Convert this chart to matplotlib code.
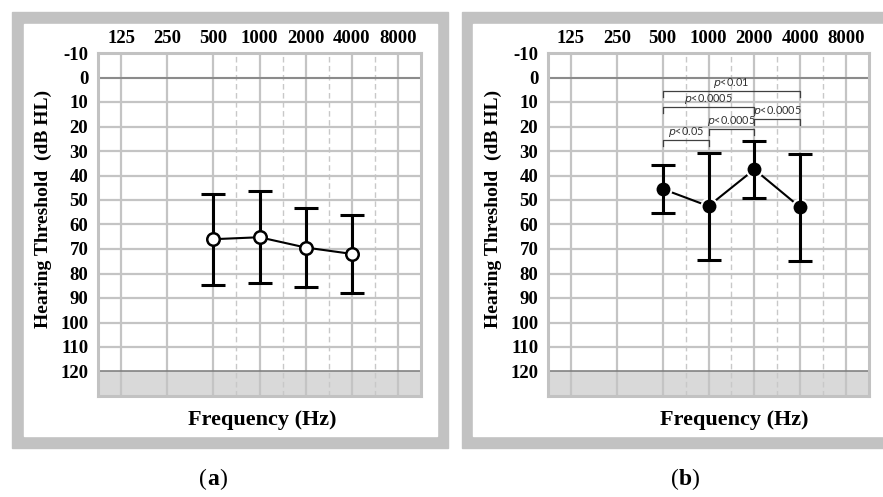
import numpy as np
import matplotlib.pyplot as plt
from matplotlib.patches import Rectangle

# audiogram frequencies (Hz) shown along the top
freqs = [125, 250, 500, 1000, 2000, 4000, 8000]
yticks = list(range(-10, 121, 10))

# (a) open circles: mean threshold and SD
freq_a = [500, 1000, 2000, 4000]
mean_a = [66.0, 65.2, 69.4, 72.0]
sd_a = [18.5, 18.7, 16.3, 15.9]

# (b) filled circles: mean threshold and SD
freq_b = [500, 1000, 2000, 4000]
mean_b = [45.5, 52.5, 37.5, 53.0]
sd_b = [9.8, 21.8, 11.5, 21.9]

# significance brackets in (b): (from Hz, to Hz, level dB, label)
brackets = [
    (500, 4000, 5.4, 'p<0.01'),
    (500, 2000, 12.2, 'p<0.0005'),
    (2000, 4000, 16.8, 'p<0.0005'),
    (1000, 2000, 20.9, 'p<0.0005'),
    (500, 1000, 25.7, 'p<0.05'),
]

W, H = 883, 497
fig = plt.figure(figsize=(W / 100, H / 100), dpi=100)
serif = 'Liberation Serif'
grid_c = '#c4c4c4'


def fx(px):
    return px / W


def fy(py):
    return 1 - py / H


def pos(f):
    return np.log2(np.asarray(f) / 125.0)


# gray picture frames
for x0, x1 in [(12, 448), (462, 900)]:
    fig.patches.append(Rectangle((fx(x0), fy(448)), fx(x1 - x0), (448 - 12) / H,
                                 transform=fig.transFigure, color='#c2c2c2', zorder=-2))
for x0, x1 in [(24, 437), (473, 900)]:
    fig.patches.append(Rectangle((fx(x0), fy(436)), fx(x1 - x0), (436 - 24) / H,
                                 transform=fig.transFigure, color='white', zorder=-1))


def audiogram(left, right):
    ax = fig.add_axes([fx(left), fy(396), fx(right - left), (396 - 53) / H])
    ax.set_zorder(2)
    ax.set_xlim(-0.5, 6.5)
    ax.set_ylim(130, -10)
    ax.axhspan(120, 130, color='#d9d9d9', zorder=0)
    for x in pos(freqs):
        ax.axvline(x, color=grid_c, lw=1.6, zorder=1)
    for x in pos(freqs)[2:6] + 0.5:
        ax.axvline(x, color='#c8c8c8', lw=1.0, ls=(0, (4, 2.5)), zorder=1)
    for y in yticks[1:-1]:
        ax.axhline(y, color=grid_c, lw=1.6, zorder=1)
    ax.axhline(0, color='#7a7a7a', lw=1.1, zorder=1.5)
    ax.axhline(120, color='#7a7a7a', lw=1.1, zorder=1.5)
    for s in ax.spines.values():
        s.set_color('#c2c2c2')
        s.set_linewidth(2.2)
    ax.xaxis.tick_top()
    ax.set_xticks(pos(freqs))
    ax.set_xticklabels([str(f) for f in freqs], fontfamily=serif, fontweight='bold', fontsize=13.5)
    ax.set_yticks(yticks)
    ax.set_yticklabels([str(v) for v in yticks], fontfamily=serif, fontweight='bold', fontsize=13.5)
    ax.tick_params(length=0, axis='x', pad=4)
    ax.tick_params(length=0, axis='y', pad=7)
    return ax


ax_a = audiogram(98, 421)
ax_b = audiogram(548, 869)

# (a) series
ax_a.plot(pos(freq_a), mean_a, color='black', lw=1.5, zorder=3)
ax_a.errorbar(pos(freq_a), mean_a, yerr=sd_a, fmt='none', ecolor='black',
              elinewidth=2.2, capsize=8.5, capthick=2.2, zorder=3)
ax_a.plot(pos(freq_a), mean_a, 'o', ms=9, mfc='white', mec='black', mew=1.8, zorder=4)

# (b) series
ax_b.plot(pos(freq_b), mean_b, color='black', lw=1.5, zorder=3)
ax_b.plot(pos(freq_b), mean_b, 'o', ms=11.5, mfc='black', mec='white', mew=1.5, zorder=4)
ax_b.errorbar(pos(freq_b), mean_b, yerr=sd_b, fmt='none', ecolor='black',
              elinewidth=2.2, capsize=8.5, capthick=2.2, zorder=5)

for f0, f1, lev, txt in brackets:
    x0, x1 = pos(f0), pos(f1)
    ax_b.plot([x0, x0, x1, x1], [lev + 2.4, lev, lev, lev + 2.4], color='#404040', lw=0.9, zorder=3)
    ax_b.text((x0 + x1) / 2, lev - 0.4, '$p$' + txt[1:], ha='center', va='bottom',
              fontsize=7.8, color='#333333', fontfamily='Lato', zorder=3)

# axis titles
for cx_lab, cx_freq in [(43, 262), (493, 734)]:
    fig.text(fx(cx_lab), fy(209), 'Hearing Threshold  (dB HL)', rotation=90, ha='center', va='center',
             fontfamily=serif, fontweight='bold', fontsize=14)
    fig.text(fx(cx_freq), fy(420), 'Frequency (Hz)', ha='center', va='center',
             fontfamily=serif, fontweight='bold', fontsize=16)

# panel letters
for cx, letter in [(213, 'a'), (685, 'b')]:
    fig.text(fx(cx), fy(485), letter, ha='center', va='baseline', fontfamily=serif,
             fontweight='bold', fontsize=17)
    fig.text(fx(cx - 6.5), fy(485), '(', ha='right', va='baseline', fontfamily=serif, fontsize=17)
    fig.text(fx(cx + 6.5), fy(485), ')', ha='left', va='baseline', fontfamily=serif, fontsize=17)

fig.savefig('out.png', dpi=100)
